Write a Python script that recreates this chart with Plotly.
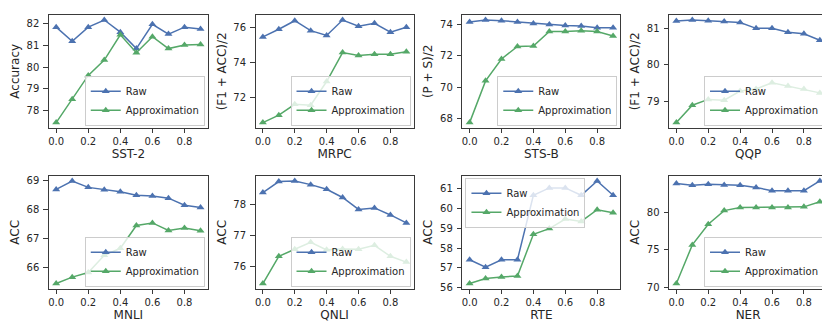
import plotly.graph_objects as go

W, H = 830, 322

steps = [0.0, 0.1, 0.2, 0.3, 0.4, 0.5, 0.6, 0.7, 0.8, 0.9]

tasks = ["SST-2", "MRPC", "STS-B", "QQP", "MNLI", "QNLI", "RTE", "NER"]
y_titles = ["Accuracy", "(F1 + ACC)/2", "(P + S)/2", "(F1 + ACC)/2",
            "ACC", "ACC", "ACC", "ACC"]

sst2_raw = [81.85, 81.2, 81.85, 82.18, 81.62, 80.86, 81.98, 81.53, 81.85, 81.76]
sst2_approx = [77.44, 78.52, 79.62, 80.33, 81.5, 80.67, 81.41, 80.86, 81.03, 81.05]

mrpc_raw = [75.45, 75.89, 76.38, 75.81, 75.53, 76.42, 76.06, 76.23, 75.72, 76.0]
mrpc_approx = [70.53, 70.96, 71.58, 71.53, 72.89, 74.55, 74.38, 74.45, 74.45, 74.6]

stsb_raw = [74.17, 74.29, 74.25, 74.17, 74.06, 74.0, 73.94, 73.9, 73.79, 73.79]
stsb_approx = [67.73, 70.4, 71.8, 72.6, 72.63, 73.56, 73.56, 73.6, 73.56, 73.27]

qqp_raw = [81.21, 81.24, 81.22, 81.2, 81.17, 81.01, 81.01, 80.9, 80.86, 80.68]
qqp_approx = [78.41, 78.89, 79.05, 79.03, 79.28, 79.34, 79.51, 79.42, 79.34, 79.23]

mnli_raw = [68.68, 68.97, 68.75, 68.67, 68.6, 68.48, 68.45, 68.38, 68.14, 68.06]
mnli_approx = [65.45, 65.67, 65.83, 66.42, 66.66, 67.44, 67.53, 67.27, 67.36, 67.26]

qnli_raw = [78.4, 78.76, 78.78, 78.66, 78.51, 78.24, 77.85, 77.9, 77.67, 77.41]
qnli_approx = [75.43, 76.32, 76.55, 76.78, 76.53, 76.56, 76.55, 76.68, 76.32, 76.13]

rte_raw = [57.41, 57.03, 57.41, 57.41, 60.66, 61.03, 61.03, 60.66, 61.38, 60.66]
rte_approx = [56.21, 56.46, 56.54, 56.59, 58.69, 58.98, 59.46, 59.34, 59.93, 59.78]

ner_raw = [83.78, 83.56, 83.69, 83.6, 83.56, 83.26, 82.83, 82.83, 82.83, 84.12]
ner_approx = [70.56, 75.67, 78.4, 80.2, 80.6, 80.6, 80.6, 80.6, 80.7, 81.37]

raw_series = [sst2_raw, mrpc_raw, stsb_raw, qqp_raw, mnli_raw, qnli_raw, rte_raw, ner_raw]
approx_series = [sst2_approx, mrpc_approx, stsb_approx, qqp_approx,
                 mnli_approx, qnli_approx, rte_approx, ner_approx]

y_dticks = [1, 2, 2, 1, 1, 1, 1, 5]

BLUE = "#4c72b0"
GREEN = "#55a868"
FRAME = "#3a3a3a"
FONT = "DejaVu Sans"

# pixel boxes of the axes (left, right) and rows (top, bottom)
col_px = [(40, 199), (247, 405), (454, 612), (661, 819)]
row_px = [(6, 121), (170, 285)]

fig = go.Figure()
layout = dict(
    width=W, height=H,
    margin=dict(l=0, r=0, t=0, b=0),
    paper_bgcolor="white", plot_bgcolor="white",
    font=dict(family=FONT, size=10, color="#262626"),
    showlegend=True,
)

for i, task in enumerate(tasks):
    r, c = divmod(i, 4)
    n = i + 1
    xa = "x" if n == 1 else f"x{n}"
    ya = "y" if n == 1 else f"y{n}"
    leg = "legend" if n == 1 else f"legend{n}"

    x0, x1 = col_px[c][0] / W, col_px[c][1] / W
    y0, y1 = 1 - row_px[r][1] / H, 1 - row_px[r][0] / H

    for name, vals, color in (("Raw", raw_series[i], BLUE),
                              ("Approximation", approx_series[i], GREEN)):
        fig.add_trace(go.Scatter(
            x=steps, y=vals, name=name, mode="lines+markers",
            line=dict(color=color, width=1.5),
            marker=dict(symbol="triangle-up", size=7, color=color),
            xaxis=xa, yaxis=ya, legend=leg,
        ))

    allv = raw_series[i] + approx_series[i]
    lo, hi = min(allv), max(allv)
    pad = (hi - lo) * 0.05

    axis_common = dict(
        showline=True, linecolor=FRAME, linewidth=1.2, mirror=True,
        ticks="outside", ticklen=4.5, tickwidth=1, tickcolor=FRAME,
        showgrid=False, zeroline=False,
        tickfont=dict(family=FONT, size=10, color="#262626"),
    )
    layout["xaxis" if n == 1 else f"xaxis{n}"] = dict(
        axis_common, domain=[x0, x1], anchor=ya,
        range=[-0.045, 0.945], tickvals=[0, 0.2, 0.4, 0.6, 0.8], tickformat=".1f",
        ticklabelstandoff=0,
        title=dict(text=task, font=dict(family=FONT, size=12), standoff=0),
    )
    layout["yaxis" if n == 1 else f"yaxis{n}"] = dict(
        axis_common, domain=[y0, y1], anchor=xa,
        range=[lo - pad, hi + pad], dtick=y_dticks[i],
        ticklabelstandoff=2,
        title=dict(text=y_titles[i], font=dict(family=FONT, size=12), standoff=4),
    )

    if task == "RTE":
        lx, ly, xan, yan = x0 + 3 / W, y1 - 2 / H, "left", "top"
    else:
        lx, ly, xan, yan = x1 - 3 / W, y0 + 2 / H, "right", "bottom"
    layout[leg] = dict(
        x=lx, y=ly, xanchor=xan, yanchor=yan, xref="paper", yref="paper",
        bgcolor="rgba(255,255,255,0.8)", bordercolor="#cccccc", borderwidth=1,
        font=dict(family=FONT, size=10, color="#262626"),
        itemwidth=30, tracegroupgap=0,
    )

fig.update_layout(**layout)
fig.write_html("out.html")
